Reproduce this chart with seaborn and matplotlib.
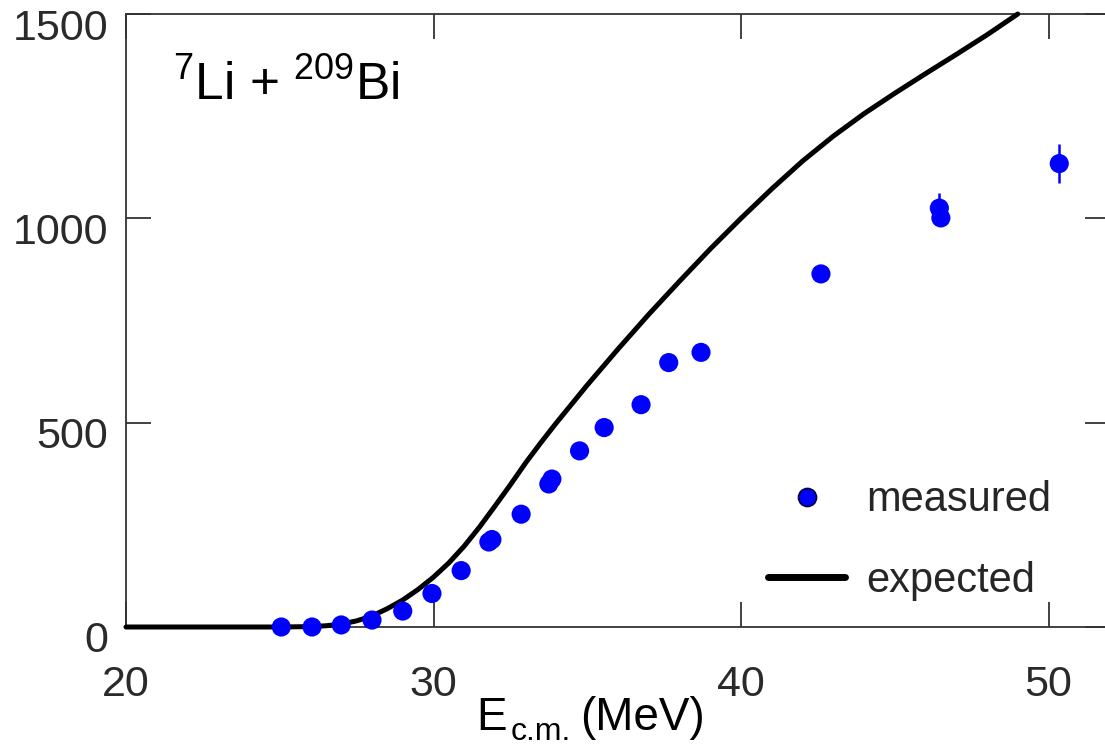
import numpy as np
import pandas as pd
import matplotlib
matplotlib.use("Agg")
import matplotlib.pyplot as plt
from matplotlib.lines import Line2D
from matplotlib.transforms import ScaledTranslation
import seaborn as sns

# ---- data ----
energy_measured = [25.05, 26.05, 27.0, 28.0, 29.0, 29.95, 30.9, 31.8, 31.9, 32.85,
                   33.75, 33.85, 34.75, 35.55, 36.75, 37.65, 38.7, 42.6, 46.45, 46.5, 50.35]
sigma_measured = [0, 0, 5, 17, 39, 82, 138, 208, 214, 276,
                  350, 362, 431, 488, 544, 647, 672, 864, 1025, 1001, 1134]
sigma_error = [0, 0, 0, 0, 0, 0, 0, 0, 0, 0,
               0, 0, 0, 0, 0, 0, 0, 0, 38, 20, 47]

energy_expected = [20, 22, 24, 25, 26, 26.5, 27, 27.5, 28, 28.5, 29, 29.5, 30, 30.5, 31,
                   31.5, 32, 32.5, 33, 33.5, 34, 34.5, 35, 36, 37, 38, 39, 40, 41, 42,
                   43, 44, 45, 46, 47, 48, 49.0]
sigma_expected = [0, 0, 0, 0, 1, 3, 7, 15, 27, 45, 66, 92, 122, 157, 198,
                  245, 296, 348, 402, 452, 500, 546, 592, 680, 765, 846, 925, 1000, 1072, 1140,
                  1201, 1256, 1306, 1354, 1401, 1449, 1500]

x_ticks = [20, 30, 40, 50]
y_ticks = [0, 500, 1000, 1500]
title_text = r"$^{7}$Li + $^{209}$Bi"
x_label_main = "E"
x_label_sub = "c.m."
x_label_unit = "(MeV)"
legend_labels = ["measured", "expected"]

sns.set_style("ticks")
plt.rcParams["font.family"] = ["Liberation Sans", "DejaVu Sans"]
plt.rcParams["mathtext.fontset"] = "custom"
plt.rcParams["mathtext.rm"] = "Liberation Sans"
plt.rcParams["mathtext.it"] = "Liberation Sans:italic"
plt.rcParams["mathtext.bf"] = "Liberation Sans:bold"

fig = plt.figure(figsize=(11.05, 7.48), dpi=100)
ax = fig.add_axes([126 / 1105, 121 / 748, 984 / 1105, 613 / 748])

df_exp = pd.DataFrame({"E": energy_expected, "sigma": sigma_expected})
df_meas = pd.DataFrame({"E": energy_measured, "sigma": sigma_measured, "err": sigma_error})

sns.lineplot(data=df_exp, x="E", y="sigma", ax=ax, color="black", linewidth=3.6,
             clip_on=False, zorder=3)

ax.errorbar(df_meas["E"], df_meas["sigma"], yerr=df_meas["err"], fmt="none",
            ecolor="#0000ff", elinewidth=1.8, capsize=0, zorder=4, clip_on=False)
sns.scatterplot(data=df_meas, x="E", y="sigma", ax=ax, color="#0000ff", s=190,
                edgecolor="none", linewidth=0, zorder=5, clip_on=False)

ax.set_xlim(20, 52)
ax.set_ylim(0, 1500)
ax.set_xticks(x_ticks)
ax.set_yticks(y_ticks)

for sp in ax.spines.values():
    sp.set_visible(True)
    sp.set_linewidth(1.3)
    sp.set_color("#333333")

ax.tick_params(axis="both", which="major", direction="in", length=18, width=1.3,
               color="#333333", top=True, right=True, labeltop=False, labelright=False)
ax.tick_params(axis="x", pad=27)
ax.tick_params(axis="y", pad=13)

for lab in ax.get_xticklabels():
    lab.set_fontsize(31)
    lab.set_color("#2a2a2a")
for lab in ax.get_yticklabels():
    lab.set_fontsize(31)
    lab.set_color("#2a2a2a")
    lab.set_transform(lab.get_transform() + ScaledTranslation(0, -10 / 100, fig.dpi_scale_trans))

ax.set_ylabel("")
ax.set_xlabel(x_label_main, fontsize=33, color="black")
ax.xaxis.label.set_horizontalalignment("left")
ax.xaxis.label.set_verticalalignment("baseline")
ax.xaxis.set_label_coords(0.356, -0.1680)
ax.text(0.3905, -0.1840, x_label_sub, transform=ax.transAxes, fontsize=23,
        ha="left", va="baseline", color="black")
ax.text(0.4615, -0.1680, x_label_unit, transform=ax.transAxes, fontsize=33,
        ha="left", va="baseline", color="black")

ax.text(0.048, 0.86, title_text, transform=ax.transAxes, fontsize=37,
        ha="left", va="baseline", color="black")

handles = [
    Line2D([], [], linestyle="none", marker="o", markersize=13, markerfacecolor="#0000ff",
           markeredgecolor="#000033", markeredgewidth=1.2),
    Line2D([], [], color="black", linewidth=5),
]
leg = ax.legend(handles, legend_labels, loc="lower right", bbox_to_anchor=(0.97, -0.005),
                frameon=False, fontsize=30, handlelength=1.85, handletextpad=0.5,
                labelspacing=0.97, borderpad=0.2)

fig.savefig("out.png", dpi=100)
